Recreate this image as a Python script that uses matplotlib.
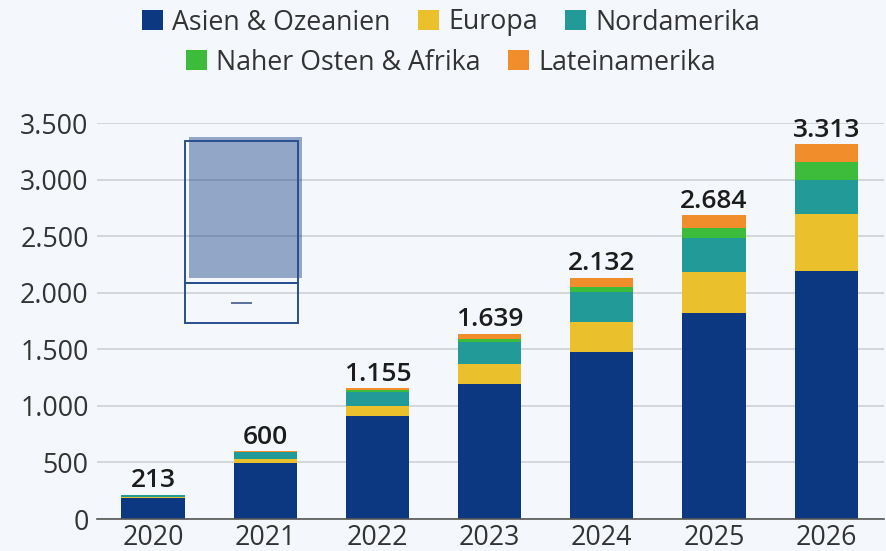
import matplotlib
matplotlib.use('Agg')
import matplotlib.pyplot as plt
from matplotlib.patches import Rectangle, Patch
from matplotlib.lines import Line2D
import numpy as np

years = ['2020', '2021', '2022', '2023', '2024', '2025', '2026']
totals = [213, 600, 1155, 1639, 2132, 2684, 3313]
asien = [190, 495, 910, 1194, 1476, 1821, 2193]
europa = [4, 35, 90, 176, 266, 363, 504]
nordamerika = [17, 62, 123, 195, 265, 300, 300]
nahost = [1, 4, 15, 26, 44, 89, 159]
latein = [1, 4, 17, 48, 81, 111, 157]
series_names = ['Asien & Ozeanien', 'Europa', 'Nordamerika', 'Naher Osten & Afrika', 'Lateinamerika']
series = [asien, europa, nordamerika, nahost, latein]
colors = ['#0B3880', '#EAC12D', '#229A98', '#3DBB3A', '#F18E2B']
yticks = [0, 500, 1000, 1500, 2000, 2500, 3000, 3500]
ylabels = ['0', '500', '1.000', '1.500', '2.000', '2.500', '3.000', '3.500']

BG = '#F4F7FB'
W, H = 887, 551
plt.rcParams['font.family'] = ['Open Sans', 'DejaVu Sans']
fig = plt.figure(figsize=(W / 100, H / 100), dpi=100, facecolor=BG)
ax = fig.add_axes([97 / W, 1 - 519 / H, (884 - 97) / W, (519 - 123) / H], facecolor=BG)

x = np.arange(len(years))
bottom = np.zeros(len(years))
for vals, c, name in zip(series, colors, series_names):
    ax.bar(x, vals, width=0.562, bottom=bottom, color=c, label=name, zorder=3, linewidth=0)
    bottom += np.array(vals)
for xi, t in zip(x, totals):
    ax.text(xi, t + 14, f'{t:,}'.replace(',', '.'), ha='center', va='bottom', fontsize=19,
            color='#1c1c1c', zorder=4, fontweight='semibold')

step = 112.2
ax.set_xlim(-(153 - 97) / step, (884 - 153) / step)
ax.set_ylim(0, 3500)
ax.set_xticks(x, years)
ax.set_yticks(yticks, ylabels)
ax.tick_params(axis='both', length=0, labelsize=19.3, labelcolor='#333333')
ax.tick_params(axis='x', pad=3.5)
ax.tick_params(axis='y', pad=6)
ax.grid(axis='y', color='#C9CDD2', linewidth=1.1, zorder=1)
ax.set_axisbelow(True)
for s in ['top', 'right', 'left']:
    ax.spines[s].set_visible(False)
ax.spines['bottom'].set_color('#555555')
ax.spines['bottom'].set_linewidth(1.2)
ax.spines['bottom'].set_zorder(5)


def px_rect(x0, y0, x1, y1, **kw):
    fig.add_artist(Rectangle((x0 / W, 1 - y1 / H), (x1 - x0) / W, (y1 - y0) / H,
                             transform=fig.transFigure, **kw))


# stray overlay box left in the source image
px_rect(189, 137, 302, 278, facecolor='#0B3880', alpha=0.42, edgecolor='none', zorder=6)
px_rect(185, 141, 298, 283, facecolor='none', edgecolor='#2A4F8F', linewidth=1.4, zorder=7)
px_rect(185, 283, 298, 323, facecolor='none', edgecolor='#2A4F8F', linewidth=1.4, zorder=7)
fig.add_artist(Line2D([232 / W, 251 / W], [1 - 303 / H, 1 - 303 / H], color='#5A7099', linewidth=1.4, zorder=7))

handles = [Patch(facecolor=c, edgecolor='none') for c in colors]
common = dict(frameon=False, fontsize=19.3, labelcolor='#333333', handlelength=0.78, handleheight=0.78,
              handletextpad=0.33, columnspacing=1.04, borderaxespad=0, borderpad=0, loc='center')
leg1 = fig.legend(handles[:3], series_names[:3], ncol=3, bbox_to_anchor=(451 / W, 1 - 22.5 / H), **common)
leg2 = fig.legend(handles[3:], series_names[3:], ncol=2, bbox_to_anchor=(451 / W, 1 - 62.5 / H), **common)

fig.savefig('out.png', dpi=100, facecolor=BG)
